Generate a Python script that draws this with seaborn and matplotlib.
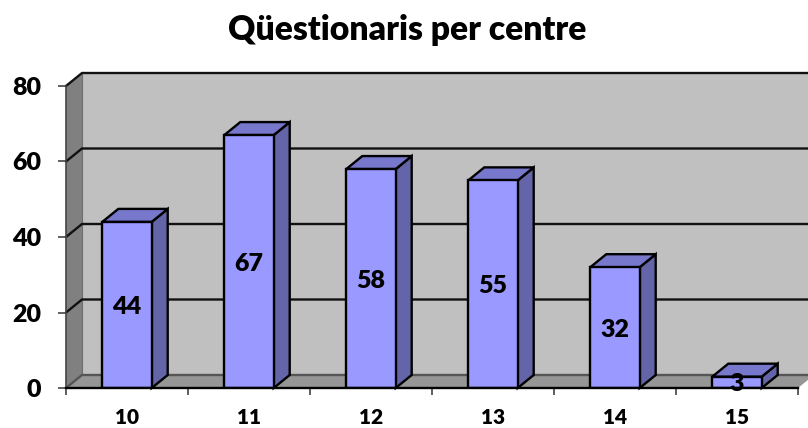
import matplotlib
matplotlib.use("Agg")
import matplotlib.pyplot as plt
import pandas as pd
import seaborn as sns

centres = ["10", "11", "12", "13", "14", "15"]
questionaris = [44, 67, 58, 55, 32, 3]
y_ticks = [0, 20, 40, 60, 80]
title = "Qüestionaris per centre"

# fake 3D depth, in data units (16 px and 13 px on the picture)
DX = 16 / 122
DY = 13 / (302 / 80)


def main() -> None:
    sns.set_theme(style="white")
    plt.rcParams["font.family"] = ["Lato", "DejaVu Sans"]
    plt.rcParams["font.weight"] = "bold"

    df = pd.DataFrame({"centre": centres, "n": questionaris})

    fig = plt.figure(figsize=(8.08, 4.28), dpi=100)
    ax = fig.add_axes([66 / 808, 1 - 388 / 428, 732 / 808, 302 / 428])
    ax.patch.set_visible(False)

    sns.barplot(
        data=df, x="centre", y="n", color="#9999ff", saturation=1, width=0.405,
        edgecolor="black", linewidth=1.7, ax=ax,
    )

    ax.set_xlim(-0.5, 5.5)
    ax.set_ylim(0, 80)
    x0, x1 = -0.5, 5.5

    # walls and floor
    ax.fill([x0, x0 + DX, x1 + DX, x1], [0, DY, DY, 0], color="#969696", zorder=0.5, clip_on=False, lw=0)
    ax.fill([x0 + DX, x1 + DX, x1 + DX, x0 + DX], [DY, DY, 80 + DY, 80 + DY], color="#c0c0c0", zorder=0.4, clip_on=False, lw=0)
    ax.fill([x0, x0 + DX, x0 + DX, x0], [0, DY, 80 + DY, 80], color="#808080", zorder=0.5, clip_on=False, lw=0)
    ax.plot([x0 + DX, x0 + DX], [DY, 80 + DY], color="#6e6e6e", lw=0.8, zorder=0.6, clip_on=False)

    # gridlines run along the left wall then the back wall
    for t in y_ticks:
        color = "#111111" if t > 0 else "#555555"
        ax.plot([x0, x0 + DX, x1 + DX], [t, t + DY, t + DY], color=color, lw=1.7, zorder=0.7,
                clip_on=False, solid_joinstyle="miter")

    # sides and tops of the bars
    for bar in ax.containers[0]:
        left, right = bar.get_x(), bar.get_x() + bar.get_width()
        h = bar.get_height()
        bar.set_zorder(3)
        ax.fill([right, right + DX, right + DX, right], [0, DY, h + DY, h], facecolor="#6464a8",
                edgecolor="black", lw=1.7, zorder=2, clip_on=False, joinstyle="miter")
        ax.fill([left, left + DX, right + DX, right], [h, h + DY, h + DY, h], facecolor="#7777cc",
                edgecolor="black", lw=1.7, zorder=2, clip_on=False, joinstyle="miter")

    ax.bar_label(ax.containers[0], label_type="center", fontsize=18, fontweight="heavy",
                 color="black", zorder=5, padding=-1.5)

    sns.despine(ax=ax, top=True, right=True)
    ax.spines["left"].set_color("#444444")
    ax.spines["left"].set_linewidth(1.2)
    ax.spines["bottom"].set_color("black")
    ax.spines["bottom"].set_linewidth(1.7)
    ax.spines["bottom"].set_zorder(4)

    ax.set_yticks(y_ticks)
    ax.set_xticks([i - 0.5 for i in range(7)], minor=True)
    ax.tick_params(axis="y", length=6, width=1.2, color="#444444", pad=12, labelsize=18, left=True)
    ax.tick_params(axis="x", which="major", length=0, pad=14.5, labelsize=15)
    ax.tick_params(axis="x", which="minor", length=5, width=1.2, color="#444444", bottom=True)
    for lab in ax.get_yticklabels() + ax.get_xticklabels():
        lab.set_fontweight("heavy")
        lab.set_color("black")

    ax.set_xlabel("")
    ax.set_ylabel("")
    fig.text(407 / 808, 1 - 30 / 428, title, ha="center", va="center", fontsize=24.2,
             fontweight="heavy", color="black")

    fig.savefig("out.png", dpi=100, facecolor="white")
    plt.close(fig)


if __name__ == "__main__":
    main()
